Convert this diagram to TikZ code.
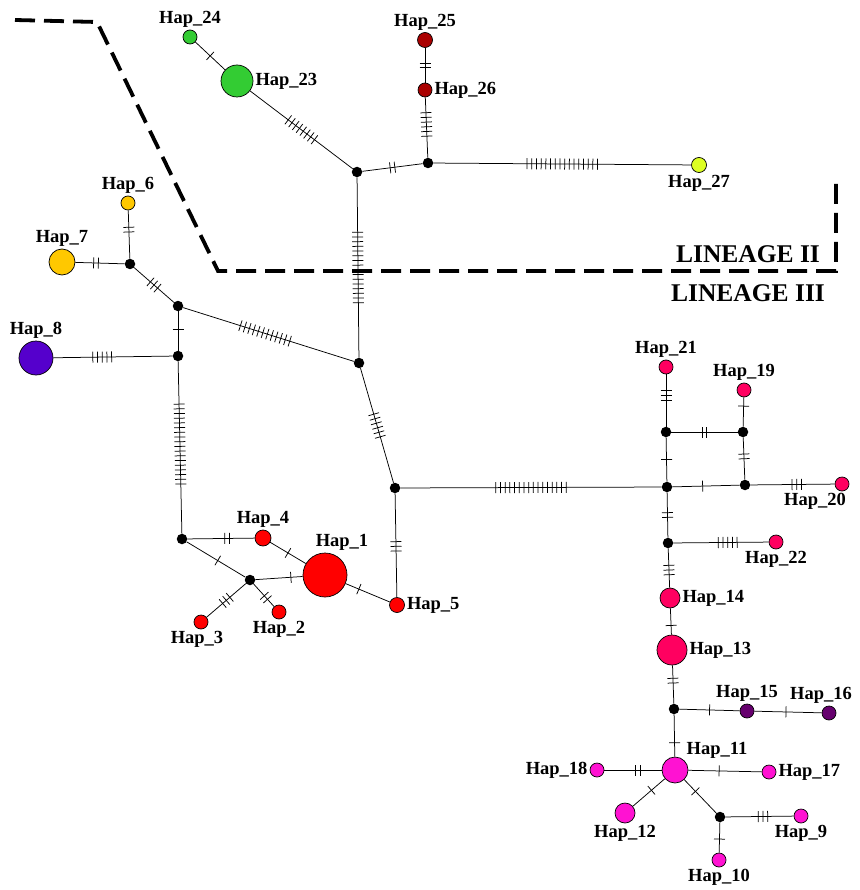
\documentclass[tikz,border=0pt]{standalone}
\usepackage{fontspec}
\setmainfont{Liberation Serif}
\usetikzlibrary{decorations.markings}
\definecolor{hapred}{HTML}{FF0000}
\definecolor{hapgold}{HTML}{FFC800}
\definecolor{hapindigo}{HTML}{5500CC}
\definecolor{hapmagenta}{HTML}{FF12D2}
\definecolor{hapcrimson}{HTML}{FF0060}
\definecolor{happlum}{HTML}{66006E}
\definecolor{hapgreen}{HTML}{33CC33}
\definecolor{hapdarkred}{HTML}{AA0000}
\definecolor{haplime}{HTML}{DDFF22}
\tikzset{
  hap/.style={circle,draw,line width=0.7pt,inner sep=0pt,minimum size=#1},
  med/.style={circle,fill=black,inner sep=0pt,minimum size=10.5pt},
  lab/.style={font=\fontsize{18.5}{18.5}\selectfont\bfseries,inner sep=2pt},
  edge/.style={line width=0.75pt},
  mut/.style 2 args={postaction={decorate,decoration={markings,
    mark=at position #2 with {\foreach \k in {1,...,#1}
      \draw[line width=0.75pt] ({(\k-(#1+1)/2)*4.7pt},-5.5pt) -- ++(0,11pt);}}}},
}
\begin{document}
\begin{tikzpicture}[x=1pt,y=-1pt]
        \useasboundingbox (0,0) rectangle (859,890);
        \draw[line width=3.8pt,dash pattern=on 20pt off 9pt] (15,20) -- (97,22) -- (218,271) -- (836,271) -- (836,182);
        \node[font=\fontsize{25.5}{25.5}\selectfont\bfseries] (lin2) at (748,254) {LINEAGE II};
        \node[font=\fontsize{25.5}{25.5}\selectfont\bfseries] (lin3) at (748,293) {LINEAGE III};

        \node[med] (m1) at (357,172) {};
        \node[med] (m2) at (428,163) {};
        \node[med] (m3) at (359,363) {};
        \node[med] (m4) at (130,264) {};
        \node[med] (m5) at (178,306) {};
        \node[med] (m6) at (178,356) {};
        \node[med] (m7) at (182,539) {};
        \node[med] (m8) at (395,488) {};
        \node[med] (m9) at (667,487) {};
        \node[med] (m10) at (250,580) {};
        \node[med] (m11) at (666,432) {};
        \node[med] (m12) at (743,432) {};
        \node[med] (m13) at (745,485) {};
        \node[med] (m14) at (668,543) {};
        \node[med] (m15) at (674,709) {};
        \node[med] (m16) at (720,817) {};

        \node[hap=44pt,fill=hapred,label={[lab,xshift=17pt]above:Hap\_1}] (h1) at (325,575) {};
        \node[hap=14pt,fill=hapred,label={[lab]below:Hap\_2}] (h2) at (279,612) {};
        \node[hap=14pt,fill=hapred,label={[lab,xshift=-4pt]below:Hap\_3}] (h3) at (201,622) {};
        \node[hap=16pt,fill=hapred,label={[lab]above:Hap\_4}] (h4) at (263,538) {};
        \node[hap=15pt,fill=hapred,label={[lab]right:Hap\_5}] (h5) at (397,605) {};
        \node[hap=14pt,fill=hapgold,label={[lab]above:Hap\_6}] (h6) at (128,203) {};
        \node[hap=26pt,fill=hapgold,label={[lab]above:Hap\_7}] (h7) at (62,262) {};
        \node[hap=34pt,fill=hapindigo,label={[lab]above:Hap\_8}] (h8) at (36,358) {};
        \node[hap=14pt,fill=hapmagenta,label={[lab]below:Hap\_9}] (h9) at (801,816) {};
        \node[hap=14pt,fill=hapmagenta,label={[lab]below:Hap\_10}] (h10) at (719,860) {};
        \node[hap=26pt,fill=hapmagenta,label={[lab]45:Hap\_11}] (h11) at (675,770) {};
        \node[hap=20pt,fill=hapmagenta,label={[lab]below:Hap\_12}] (h12) at (625,813) {};
        \node[hap=30pt,fill=hapcrimson,label={[lab]right:Hap\_13}] (h13) at (672,650) {};
        \node[hap=20pt,fill=hapcrimson,label={[lab]right:Hap\_14}] (h14) at (670,598) {};
        \node[hap=14pt,fill=happlum,label={[lab]above:Hap\_15}] (h15) at (747,711) {};
        \node[hap=14pt,fill=happlum,label={[lab,xshift=-8pt]above:Hap\_16}] (h16) at (829,713) {};
        \node[hap=14pt,fill=hapmagenta,label={[lab]right:Hap\_17}] (h17) at (769,772) {};
        \node[hap=14pt,fill=hapmagenta,label={[lab]left:Hap\_18}] (h18) at (597,770) {};
        \node[hap=14pt,fill=hapcrimson,label={[lab]above:Hap\_19}] (h19) at (744,390) {};
        \node[hap=14pt,fill=hapcrimson,label={[lab,xshift=-27pt]below:Hap\_20}] (h20) at (842,484) {};
        \node[hap=14pt,fill=hapcrimson,label={[lab]above:Hap\_21}] (h21) at (666,367) {};
        \node[hap=14pt,fill=hapcrimson,label={[lab]below:Hap\_22}] (h22) at (776,542) {};
        \node[hap=32pt,fill=hapgreen,label={[lab]right:Hap\_23}] (h23) at (237,81) {};
        \node[hap=14pt,fill=hapgreen,label={[lab]above:Hap\_24}] (h24) at (190,37) {};
        \node[hap=15pt,fill=hapdarkred,label={[lab]above:Hap\_25}] (h25) at (425,40) {};
        \node[hap=14pt,fill=hapdarkred,label={[lab]right:Hap\_26}] (h26) at (425,90) {};
        \node[hap=15pt,fill=haplime,label={[lab]below:Hap\_27}] (h27) at (699,165) {};

        \draw[edge,mut={1}{0.5}] (h24) -- (h23);
        \draw[edge,mut={8}{0.5}] (h23) -- (m1);
        \draw[edge,mut={2}{0.5}] (m1) -- (m2);
        \draw[edge,mut={2}{0.5}] (h25) -- (h26);
        \draw[edge,mut={6}{0.45}] (h26) -- (m2);
        \draw[edge,mut={16}{0.5}] (m2) -- (h27);
        \draw[edge,mut={16}{0.5}] (m1) -- (m3);
        \draw[edge,mut={2}{0.4}] (h6) -- (m4);
        \draw[edge,mut={2}{0.42}] (h7) -- (m4);
        \draw[edge,mut={3}{0.5}] (m4) -- (m5);
        \draw[edge,mut={12}{0.48}] (m5) -- (m3);
        \draw[edge,mut={1}{0.45}] (m5) -- (m6);
        \draw[edge,mut={5}{0.41}] (h8) -- (m6);
        \draw[edge,mut={18}{0.48}] (m6) -- (m7);
        \draw[edge,mut={6}{0.5}] (m3) -- (m8);
        \draw[edge,mut={16}{0.5}] (m8) -- (m9);
        \draw[edge,mut={3}{0.51}] (m8) -- (h5);
        \draw[edge,mut={2}{0.59}] (m7) -- (h4);
        \draw[edge,mut={1}{0.53}] (m7) -- (m10);
        \draw[edge,mut={1}{0.5}] (h4) -- (h1);
        \draw[edge,mut={1}{0.75}] (m10) -- (h1);
        \draw[edge,mut={3}{0.5}] (m10) -- (h3);
        \draw[edge,mut={2}{0.6}] (m10) -- (h2);
        \draw[edge,mut={1}{0.3}] (h1) -- (h5);
        \draw[edge,mut={3}{0.4}] (h21) -- (m11);
        \draw[edge,mut={2}{0.5}] (m11) -- (m12);
        \draw[edge,mut={1}{0.3}] (h19) -- (m12);
        \draw[edge,mut={2}{0.45}] (m12) -- (m13);
        \draw[edge,mut={1}{0.5}] (m11) -- (m9);
        \draw[edge,mut={1}{0.45}] (m9) -- (m13);
        \draw[edge,mut={3}{0.55}] (m13) -- (h20);
        \draw[edge,mut={2}{0.5}] (m9) -- (m14);
        \draw[edge,mut={5}{0.57}] (m14) -- (h22);
        \draw[edge,mut={3}{0.55}] (m14) -- (h14);
        \draw[edge,mut={1}{0.65}] (h14) -- (h13);
        \draw[edge,mut={2}{0.4}] (h13) -- (m15);
        \draw[edge,mut={1}{0.5}] (m15) -- (h15);
        \draw[edge,mut={1}{0.47}] (h15) -- (h16);
        \draw[edge,mut={1}{0.67}] (m15) -- (h11);
        \draw[edge,mut={2}{0.59}] (h18) -- (h11);
        \draw[edge,mut={1}{0.42}] (h11) -- (h17);
        \draw[edge,mut={1}{0.42}] (h11) -- (h12);
        \draw[edge,mut={1}{0.35}] (h11) -- (m16);
        \draw[edge,mut={3}{0.55}] (m16) -- (h9);
        \draw[edge,mut={1}{0.55}] (m16) -- (h10);
\end{tikzpicture}
\end{document}
